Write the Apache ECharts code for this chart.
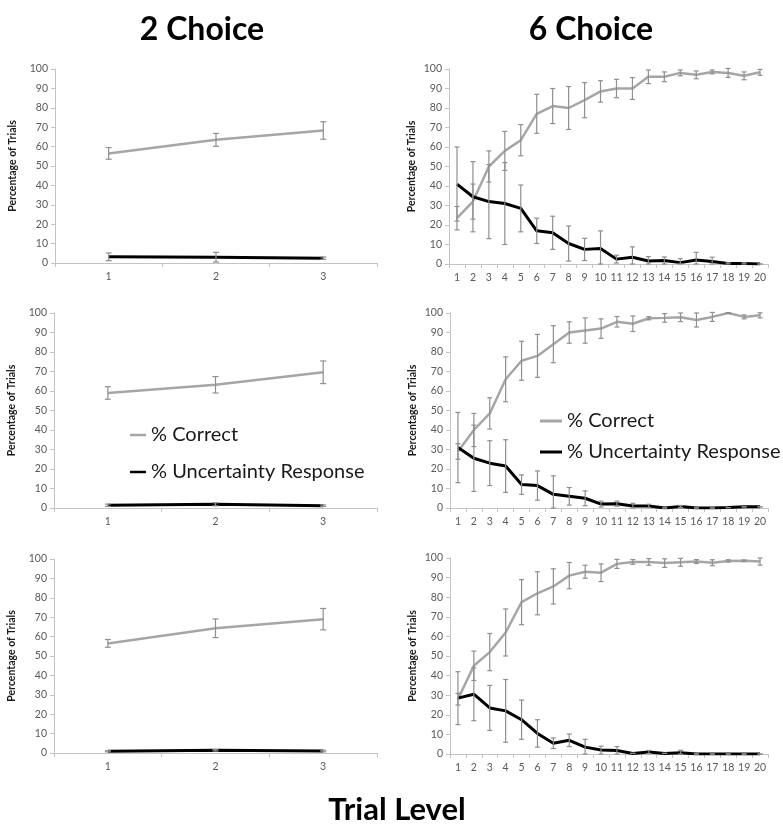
<!DOCTYPE html>
<html>
<head>
<meta charset="utf-8">
<script src="https://cdn.jsdelivr.net/npm/echarts@6/dist/echarts.min.js"></script>
<style>
  html, body { margin: 0; padding: 0; background: #ffffff; }
  #chart { width: 783px; height: 836px; }
</style>
</head>
<body>
<div id="chart"></div>
<script>
// ---------- data ----------
const cats2 = ['1', '2', '3'];
const cats6 = ['1','2','3','4','5','6','7','8','9','10','11','12','13','14','15','16','17','18','19','20'];
const yTicks = [0, 10, 20, 30, 40, 50, 60, 70, 80, 90, 100];

const seriesNames = ['% Correct', '% Uncertainty Response'];
const colTitles = ['2 Choice', '6 Choice'];
const xTitle = 'Trial Level';
const yTitle = 'Percentage of Trials';

// 2 Choice, row 1
const c2r1Correct    = [56.5, 63.5, 68.3];
const c2r1CorrectErr = [3, 3.3, 4.5];
const c2r1Unc        = [3.2, 3.0, 2.5];
const c2r1UncErr     = [2, 2.5, 0.6];
// 2 Choice, row 2
const c2r2Correct    = [59, 63.2, 69.6];
const c2r2CorrectErr = [3.2, 4.2, 5.8];
const c2r2Unc        = [1.4, 1.9, 1.2];
const c2r2UncErr     = [0.6, 0.8, 0.4];
// 2 Choice, row 3
const c2r3Correct    = [56.5, 64.3, 69];
const c2r3CorrectErr = [2, 4.8, 5.5];
const c2r3Unc        = [0.9, 1.4, 1.0];
const c2r3UncErr     = [0.3, 0.4, 0.4];

// 6 Choice, row 1
const c6r1Correct    = [23.5, 32, 50, 58, 63.5, 77, 81, 80, 84, 88.5, 90, 90, 96, 96, 98, 97, 98.5, 98, 96.5, 98.3];
const c6r1CorrectErr = [6, 9, 8, 10, 8, 10, 9, 11, 9, 5.5, 4.7, 5.6, 3.5, 2.5, 1.5, 2, 1, 2.3, 2, 1.5];
const c6r1Unc        = [41, 34.5, 32, 31, 28.5, 17, 16, 10.5, 7.5, 8, 2.5, 3.5, 1.5, 1.8, 0.7, 2, 1.3, 0.3, 0.3, 0];
const c6r1UncErr     = [19, 18, 19, 21, 12, 6.5, 8.5, 9, 5.7, 9, 2, 5.3, 2.3, 1.8, 2, 4, 2.2, 0.3, 0.3, 0];
// 6 Choice, row 2
const c6r2Correct    = [29, 40, 48.5, 66, 75.5, 78, 84, 90, 91, 92, 95.5, 94.5, 97.3, 97.5, 97.8, 96.4, 98, 100, 98, 98.8];
const c6r2CorrectErr = [4, 8.5, 8, 11.5, 10, 11, 9.5, 5.5, 6.5, 5, 2.7, 4, 0.8, 2.2, 2.2, 3.6, 2.3, 0.2, 1, 1.3];
const c6r2Unc        = [31, 25.5, 23, 21.5, 12, 11.5, 7, 6, 5, 2, 2.2, 1, 1, 0, 0.8, 0, 0, 0.2, 0.6, 0.6];
const c6r2UncErr     = [18, 17, 11.5, 13.5, 5, 7.5, 9.5, 4.5, 3.8, 1.5, 1.3, 1.4, 0.9, 0, 0.5, 0, 0, 0, 0, 0];
// 6 Choice, row 3
const c6r3Correct    = [28, 45, 52, 62, 77.5, 82, 85.5, 91, 93, 92.5, 97, 98, 98, 97.4, 97.8, 98.2, 97.6, 98.5, 98.6, 98.2];
const c6r3CorrectErr = [3, 7.5, 9.5, 12, 11.5, 11, 9, 6.7, 3.3, 4.5, 2.3, 1.2, 1.7, 2.2, 2, 1, 1.5, 0.6, 0.4, 1.8];
const c6r3Unc        = [28.5, 30.5, 23.5, 22, 17.5, 10.5, 5.5, 7, 3.5, 2, 1.8, 0.3, 1, 0.3, 0.6, 0, 0, 0, 0, 0];
const c6r3UncErr     = [13.5, 13.5, 11.5, 16, 10, 7, 2.7, 3.2, 4, 2, 2, 0, 0.8, 0, 1.3, 0, 0, 0, 0, 0];

// ---------- layout / style ----------
const FONT = 'Lato, "Open Sans", sans-serif';
const GRAY = '#a6a6a6';
const BLACK = '#000000';
const ERR = '#8f8f8f';
const AXIS = '#c4c4c4';

const panels = [
  { cats: cats2, c: c2r1Correct, ce: c2r1CorrectErr, u: c2r1Unc, ue: c2r1UncErr, grid: { left: 55, top: 69, width: 322, height: 194 }, nameGap: 37, cap: 6 },
  { cats: cats6, c: c6r1Correct, ce: c6r1CorrectErr, u: c6r1Unc, ue: c6r1UncErr, grid: { left: 449, top: 69, width: 319, height: 195 }, nameGap: 32, cap: 5 },
  { cats: cats2, c: c2r2Correct, ce: c2r2CorrectErr, u: c2r2Unc, ue: c2r2UncErr, grid: { left: 54, top: 313, width: 323, height: 195 }, nameGap: 37, cap: 6 },
  { cats: cats6, c: c6r2Correct, ce: c6r2CorrectErr, u: c6r2Unc, ue: c6r2UncErr, grid: { left: 450, top: 313, width: 318, height: 195 }, nameGap: 32, cap: 5 },
  { cats: cats2, c: c2r3Correct, ce: c2r3CorrectErr, u: c2r3Unc, ue: c2r3UncErr, grid: { left: 54, top: 559, width: 323, height: 194 }, nameGap: 37, cap: 6 },
  { cats: cats6, c: c6r3Correct, ce: c6r3CorrectErr, u: c6r3Unc, ue: c6r3UncErr, grid: { left: 450, top: 558, width: 318, height: 196 }, nameGap: 32, cap: 5 }
];

function errData(vals, errs) {
  return vals.map((v, i) => [i, Math.max(0, v - errs[i]), Math.min(100.5, v + errs[i])]);
}

function errSeries(idx, vals, errs, capW) {
  return {
    type: 'custom',
    xAxisIndex: idx, yAxisIndex: idx,
    silent: true, z: 3,
    data: errData(vals, errs),
    renderItem: function (params, api) {
      const lo = api.coord([api.value(0), api.value(1)]);
      const hi = api.coord([api.value(0), api.value(2)]);
      const x = lo[0];
      const st = { stroke: ERR, lineWidth: 1.2 };
      return {
        type: 'group',
        children: [
          { type: 'line', shape: { x1: x, y1: lo[1], x2: x, y2: hi[1] }, style: st },
          { type: 'line', shape: { x1: x - capW / 2, y1: lo[1], x2: x + capW / 2, y2: lo[1] }, style: st },
          { type: 'line', shape: { x1: x - capW / 2, y1: hi[1], x2: x + capW / 2, y2: hi[1] }, style: st }
        ]
      };
    }
  };
}

const grids = [], xAxes = [], yAxes = [], series = [];
panels.forEach((p, i) => {
  grids.push(Object.assign({ containLabel: false }, p.grid));
  xAxes.push({
    type: 'category', gridIndex: i, data: p.cats, boundaryGap: true,
    axisLine: { lineStyle: { color: AXIS, width: 1 } },
    axisTick: { show: true, length: 4, lineStyle: { color: AXIS } },
    axisLabel: { color: '#595959', fontSize: 10.5, fontFamily: FONT, margin: 8, interval: 0 },
    splitLine: { show: false }
  });
  yAxes.push({
    type: 'value', gridIndex: i, min: yTicks[0], max: yTicks[yTicks.length - 1], interval: 10,
    name: yTitle, nameLocation: 'middle', nameGap: p.nameGap,
    nameTextStyle: { fontFamily: FONT, fontSize: 10.5, fontWeight: 'bold', color: '#1a1a1a' },
    axisLine: { show: true, lineStyle: { color: AXIS, width: 1 } },
    axisTick: { show: true, length: 4, lineStyle: { color: AXIS } },
    axisLabel: { color: '#595959', fontSize: 10.5, fontFamily: FONT, margin: 7 },
    splitLine: { show: false }
  });
  series.push({
    name: seriesNames[0], type: 'line', xAxisIndex: i, yAxisIndex: i,
    data: p.c, symbol: 'none', z: 2,
    lineStyle: { color: GRAY, width: 2.5 }, itemStyle: { color: GRAY }
  });
  series.push({
    name: seriesNames[1], type: 'line', xAxisIndex: i, yAxisIndex: i,
    data: p.u, symbol: 'none', z: 2,
    lineStyle: { color: BLACK, width: 3 }, itemStyle: { color: BLACK }
  });
  series.push(errSeries(i, p.c, p.ce, p.cap));
  series.push(errSeries(i, p.u, p.ue, p.cap));
});

const legendText = { fontFamily: FONT, fontSize: 20, color: '#1a1a1a', lineHeight: 20 };
const option = {
  backgroundColor: '#ffffff',
  animation: false,
  grid: grids,
  xAxis: xAxes,
  yAxis: yAxes,
  series: series,
  legend: [
    { orient: 'vertical', left: 125, top: 420, itemGap: 17, icon: 'rect', itemWidth: 16, itemHeight: 2.5,
      textStyle: legendText, data: seriesNames, selectedMode: false },
    { orient: 'vertical', left: 535, top: 406, itemGap: 11, icon: 'rect', itemWidth: 22, itemHeight: 3,
      textStyle: legendText, data: seriesNames, selectedMode: false }
  ],
  graphic: [
    { type: 'text', x: 202, y: 30, style: { text: colTitles[0], fontFamily: FONT, fontSize: 32, fontWeight: 'bold', fill: '#000', align: 'center', verticalAlign: 'middle' } },
    { type: 'text', x: 591, y: 30, style: { text: colTitles[1], fontFamily: FONT, fontSize: 32, fontWeight: 'bold', fill: '#000', align: 'center', verticalAlign: 'middle' } },
    { type: 'text', x: 397, y: 810, style: { text: xTitle, fontFamily: FONT, fontSize: 31, fontWeight: 'bold', fill: '#000', align: 'center', verticalAlign: 'middle' } }
  ]
};

const chart = echarts.init(document.getElementById('chart'), null, { renderer: 'canvas' });
chart.setOption(option);
</script>
</body>
</html>
